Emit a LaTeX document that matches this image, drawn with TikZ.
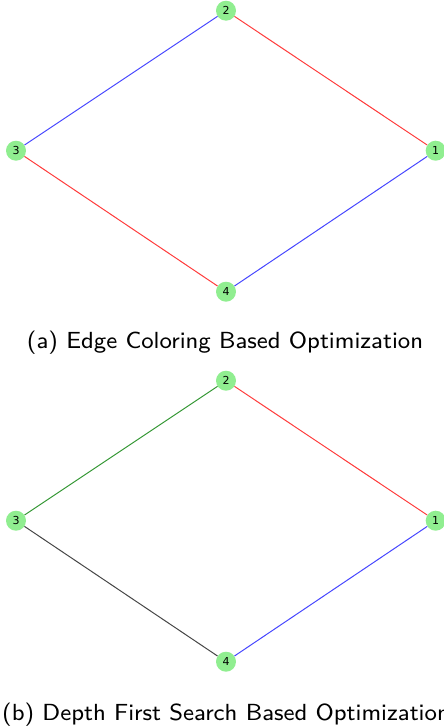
\documentclass[tikz,border=0pt]{standalone}
\usepackage{fontspec}
\newfontfamily\labelfont{DejaVu Sans}
\newfontfamily\captionfont{lmsans8-regular.otf}
\usetikzlibrary{%
	positioning,%
}
\definecolor{cnode}{RGB}{144, 238, 144}
\definecolor{cred}{RGB}{255, 60, 60}
\definecolor{cblue}{RGB}{70, 70, 255}
\definecolor{cgreen}{RGB}{50, 150, 50}
\definecolor{cblack}{RGB}{70, 70, 70}
\tikzset{
	vertex/.style={%
			circle,%
			fill=cnode,%
			minimum size=20pt,%
			inner sep=0pt,%
			font={\labelfont\fontsize{11}{13}\selectfont}},%
	edgeline/.style={%
			line width=1pt},%
	caption/.style={%
			anchor=base,%
			font={\captionfont\fontsize{23.3}{27}\selectfont}},%
}

\begin{document}
\begin{tikzpicture}[x=1pt, y=-1pt]%
	\useasboundingbox (0,0) rectangle (444,726);

	% edge coloring
	\node[vertex] (a2) at (226,10.7) {2};
	\node[vertex] (a3) at (16,150.7) {3};
	\node[vertex] (a1) at (435.7,150.7) {1};
	\node[vertex] (a4) at (226,291.7) {4};

	\draw[edgeline, cblue] (a3) -- (a2);
	\draw[edgeline, cred] (a2) -- (a1);
	\draw[edgeline, cred] (a3) -- (a4);
	\draw[edgeline, cblue] (a4) -- (a1);

	\node[caption] (capa) at (225,348) {(a) Edge Coloring Based Optimization};

	% depth first search
	\node[vertex] (b2) at (226,380.7) {2};
	\node[vertex] (b3) at (16,520.7) {3};
	\node[vertex] (b1) at (435.7,520.7) {1};
	\node[vertex] (b4) at (226,661.7) {4};

	\draw[edgeline, cgreen] (b3) -- (b2);
	\draw[edgeline, cred] (b2) -- (b1);
	\draw[edgeline, cblack] (b3) -- (b4);
	\draw[edgeline, cblue] (b4) -- (b1);

	\node[caption, anchor=base west, inner xsep=0pt] (capb) at (2,720) {(b) Depth First Search Based Optimization};
\end{tikzpicture}
\end{document}
